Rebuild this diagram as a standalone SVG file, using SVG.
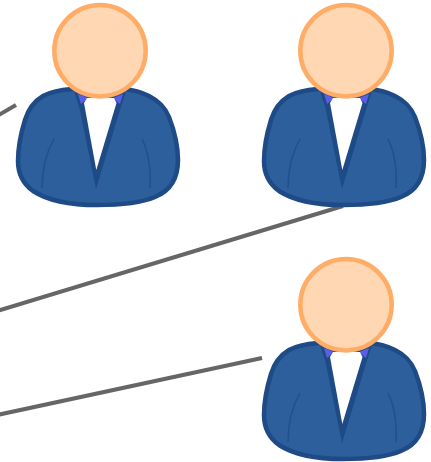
<svg xmlns="http://www.w3.org/2000/svg" width="431" height="462" viewBox="0 0 431 462">
  <style>
    .body{fill:#2c5f9b;stroke:#1e4a86;stroke-width:4.5;stroke-linejoin:round}
    .shirt{fill:#fff;stroke:none}
    .collar{fill:#5b5fe6;stroke:none}
    .lapel{fill:#1e4a86;stroke:none}
    .fold{fill:none;stroke:#234f8c;stroke-width:1.5}
    .head{fill:#ffd7b3;stroke:#ffad66;stroke-width:4.5}
    .link{fill:none;stroke:#666;stroke-width:4}
  </style>
  <defs>
    <g id="person">
      <path class="body" d="M72 89C60 90 50 92 43 96C33 102 28 110 25 120C21 133 18 147 18 161C18 172 22 183 33 191C50 202 75 205 97 205C120 205 141 203 155 197C170 191 178 178 178 160C178 146 174 130 169 117C164 105 157 100 149 96C141 92 134 90 124 89Z"/>
      <path class="lapel" d="M73 88L79.5 108L96 189L120.5 108L127 88Z"/>
      <path class="collar" d="M78 94L88 98L81 104ZM123 94L113 98L120 104Z"/>
      <path class="shirt" d="M84 103L87 98L114 98L116.5 103L96.3 170Z"/>
      <path class="fold" d="M54 139C46 153 42 168 42 188M142 139C149 153 151 168 150 188"/>
      <circle class="head" cx="100" cy="50.7" r="45.7"/>
    </g>
  </defs>
  <g id="connectors">
    <line class="link" x1="-3" y1="116" x2="16" y2="105"/>
    <line class="link" x1="-3" y1="311" x2="343" y2="206"/>
    <line class="link" x1="-3" y1="415" x2="262" y2="358"/>
  </g>
  <g id="person-1"><use href="#person"/></g>
  <g id="person-2"><use href="#person" x="246"/></g>
  <g id="person-3"><use href="#person" x="246" y="254"/></g>
</svg>
